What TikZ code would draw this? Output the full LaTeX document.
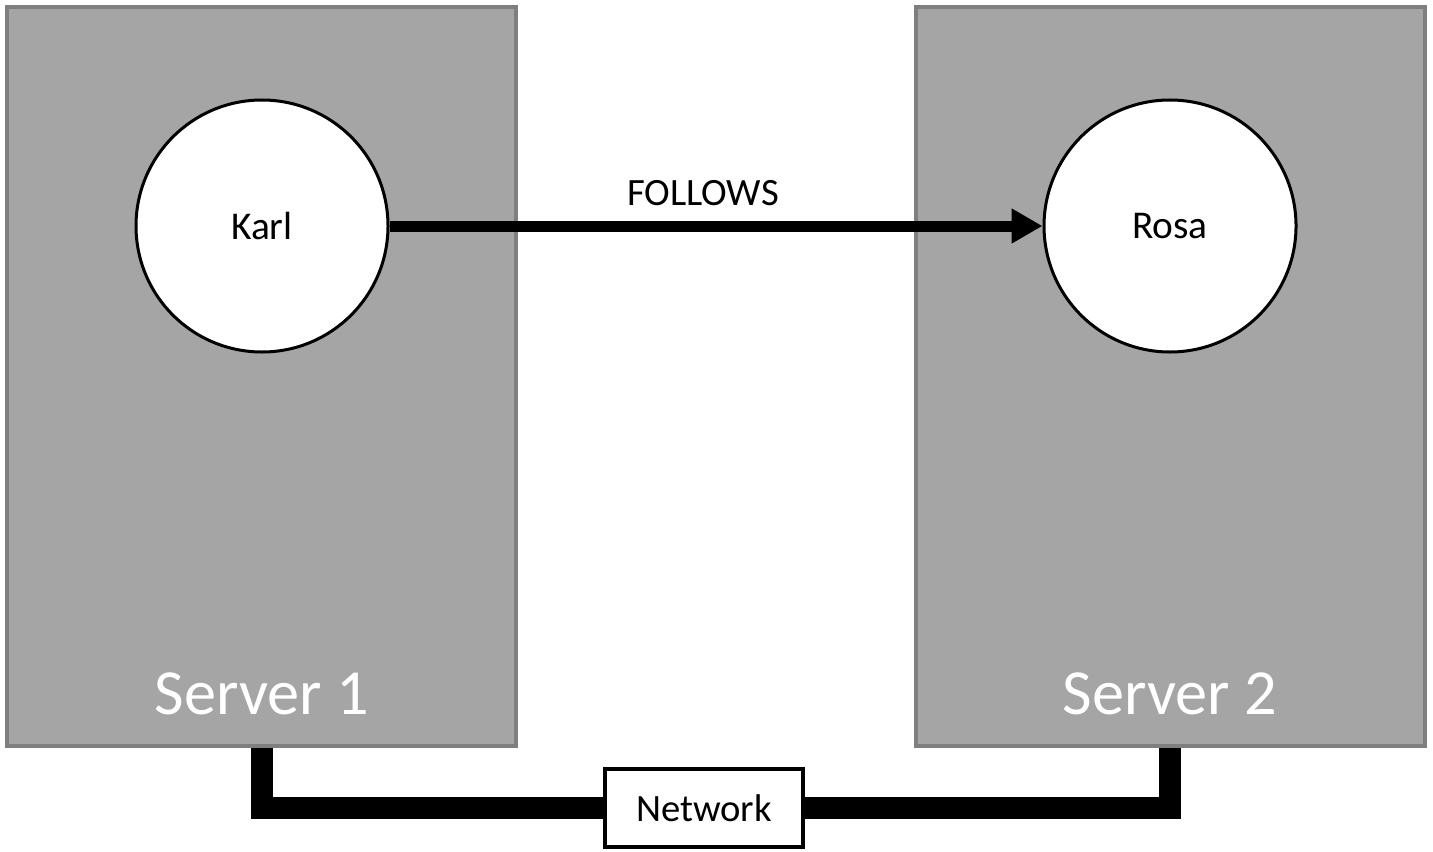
\documentclass[tikz,border=0pt]{standalone}
\usepackage{fontspec}
\setmainfont{Carlito}
\usetikzlibrary{arrows.meta}
\pgfdeclarelayer{bg}
\pgfsetlayers{bg,main}
\definecolor{boxgray}{HTML}{A5A5A5}
\definecolor{edgegray}{HTML}{7F7F7F}
\tikzset{
    server/.style={rectangle, draw=edgegray, fill=boxgray, line width=0.04cm, minimum width=5.09cm, minimum height=7.39cm, inner sep=0mm}
}
\tikzset{
    servername/.style={text=white, inner sep=0mm, font=\fontsize{18.3}{22}\selectfont}
}
\tikzset{
    person/.style={circle, draw, fill=white, line width=0.03cm, minimum size=2.52cm, inner sep=0mm, font=\fontsize{11.2}{13}\selectfont},
    netbox/.style={rectangle, draw, fill=white, line width=0.04cm, minimum width=1.98cm, minimum height=0.78cm, inner sep=0mm, font=\fontsize{11}{13}\selectfont}
}

\begin{document}
\begin{tikzpicture}
    \useasboundingbox (0cm, 0cm) rectangle (14.33cm, 8.51cm);

    \node (s1) [server] at (2.615cm, 4.745cm) {};
    \node (s2) [server] at (11.70cm, 4.745cm) {};
    \node (s1name) [servername] at (2.62cm, 1.57cm) {Server 1};
    \node (s2name) [servername] at (11.70cm, 1.57cm) {Server 2};

    \node (karl) [person] at (2.62cm, 6.25cm) {Karl};
    \node (rosa) [person] at (11.70cm, 6.25cm) {Rosa};

    \node (net) [netbox] at (7.04cm, 0.43cm) {Network};

    \draw[line width=0.11cm, -{Triangle[length=0.31cm, width=0.33cm]}] (karl) -- (rosa)
        node[midway, above=0.15cm, xshift=-0.13cm, inner sep=0mm, font=\fontsize{11}{13}\selectfont] {FOLLOWS};

    \begin{pgfonlayer}{bg}
        \draw[line width=0.22cm] (s1.south) |- (net.west);
        \draw[line width=0.22cm] (s2.south) |- (net.east);
    \end{pgfonlayer}
\end{tikzpicture}
\end{document}
